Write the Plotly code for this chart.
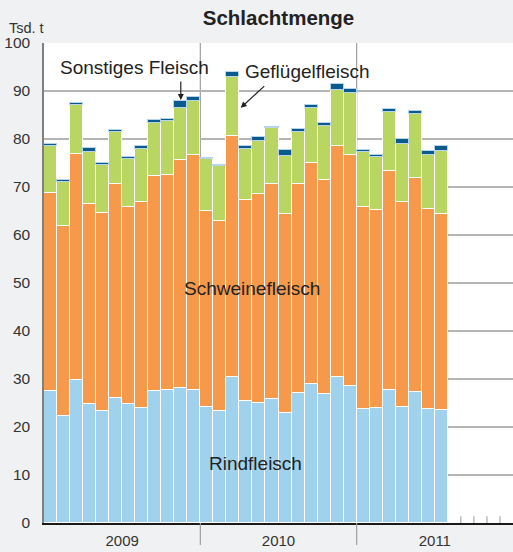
import plotly.graph_objects as go

# Monthly values Jan 2009 .. Jul 2011 (Tsd. t)
years = ["2009", "2010", "2011"]
rind = [27.5, 22.3, 29.8, 24.8, 23.3, 26.0, 24.8, 24.0, 27.5, 27.7, 28.2, 27.7,
        24.2, 23.3, 30.4, 25.4, 24.9, 25.8, 23.0, 27.0, 29.0, 26.8, 30.4, 28.6,
        23.7, 24.0, 27.7, 24.2, 27.3, 23.8, 23.6]
schwein = [41.2, 39.5, 47.1, 41.7, 41.3, 44.6, 41.1, 42.9, 44.8, 44.8, 47.4, 48.9,
           40.9, 39.6, 50.2, 41.8, 43.6, 44.9, 41.4, 43.7, 46.0, 44.6, 48.2, 48.0,
           42.2, 41.3, 45.7, 42.7, 44.6, 41.7, 40.7]
gefluegel = [9.8, 9.3, 10.2, 10.8, 10.0, 10.8, 9.9, 11.1, 11.1, 11.2, 10.8, 11.3,
             10.7, 11.4, 12.3, 10.8, 11.1, 11.6, 12.0, 10.7, 11.5, 11.4, 11.7, 13.0,
             11.4, 11.0, 12.3, 12.0, 13.3, 11.2, 13.2]
sonstiges = [0.5, 0.3, 0.4, 0.8, 0.5, 0.5, 0.5, 0.5, 0.5, 0.5, 1.5, 0.8,
             0.3, 0.3, 1.0, 0.5, 0.9, 0.2, 1.4, 0.6, 0.6, 0.6, 1.2, 0.8,
             0.5, 0.3, 0.6, 1.2, 0.6, 0.9, 1.0]

idx = list(range(len(rind)))
n_slots = 36  # three years of months on the axis

FONT = "Liberation Sans, Arial, Helvetica, sans-serif"
TXT = "#222222"

fig = go.Figure()
series = [
    ("Rindfleisch", rind, "#a0d2ee", "white"),
    ("Schweinefleisch", schwein, "#f6994b", "white"),
    ("Geflügelfleisch", gefluegel, "#b9d662", "white"),
    ("Sonstiges Fleisch", sonstiges, "#0b5a8e", "#b8d4ea"),
]
for name, vals, col, lc in series:
    fig.add_trace(go.Bar(x=idx, y=vals, name=name, marker_color=col,
                         marker_line_color=lc, marker_line_width=1.2,
                         hoverinfo="skip"))

top = [a + b + c + d for a, b, c, d in zip(rind, schwein, gefluegel, sonstiges)]

shapes = []
# year separators inside plot (behind bars)
for b in (11.5, 23.5):
    shapes.append(dict(type="line", xref="x", yref="y", x0=b, x1=b, y0=0, y1=100,
                       line=dict(color="#a0a0a0", width=1.2), layer="below"))
    frac = (b + 0.5) / n_slots
    shapes.append(dict(type="line", xref="paper", yref="paper", x0=frac, x1=frac,
                       y0=-22 / 480, y1=0, line=dict(color="#a0a0a0", width=1.2)))
# small month ticks for empty months
for k in range(len(idx), n_slots - 1):
    shapes.append(dict(type="line", xref="x", yref="y", x0=k + 0.5, x1=k + 0.5,
                       y0=0, y1=1.4, line=dict(color="#999999", width=1)))

annotations = [
    dict(text="Tsd. t", xref="paper", yref="paper", x=(7 - 44) / 469, y=(523 - 28) / 480,
         xanchor="left", yanchor="middle", showarrow=False, font=dict(size=14.5, color="#333")),
    dict(text="Sonstiges Fleisch", x=6.46, y=94.85, showarrow=False,
         font=dict(size=19, color=TXT)),
    dict(text="Geflügelfleisch", x=19.75, y=94.1, showarrow=False,
         font=dict(size=19, color=TXT)),
    dict(text="Schweinefleisch", x=15.5, y=48.8, showarrow=False,
         font=dict(size=19, color=TXT)),
    dict(text="Rindfleisch", x=15.7, y=12.5, showarrow=False,
         font=dict(size=19, color=TXT)),
    dict(text="", x=10, y=top[10], ax=0, ay=-21, showarrow=True, arrowhead=2,
         arrowsize=1, arrowwidth=1.2, arrowcolor=TXT, standoff=1),
    dict(text="", x=14.6, y=86.5, ax=25, ay=-23, showarrow=True, arrowhead=2,
         arrowsize=1, arrowwidth=1.2, arrowcolor=TXT, standoff=0),
]

fig.update_layout(
    width=513, height=552,
    margin=dict(l=44, r=0, t=43, b=29, autoexpand=False),
    paper_bgcolor="#f0f1f3", plot_bgcolor="white",
    barmode="stack", bargap=0, showlegend=False,
    font=dict(family=FONT, color=TXT),
    title=dict(text="<b>Schlachtmenge</b>", x=0.5, xref="paper", xanchor="center",
               y=1 - 18 / 552, yref="container", yanchor="middle",
               font=dict(size=20.5, color=TXT)),
    xaxis=dict(range=[-0.5, n_slots - 0.5], showgrid=False, zeroline=False,
               tickvals=[5.5, 17.5, 29.5], ticktext=years, ticks="",
               tickfont=dict(size=15, color="#333"), showline=True,
               linecolor="#1a1a1a", linewidth=2, automargin=False,
               ticklabelstandoff=3),
    yaxis=dict(range=[0, 100], dtick=10, showgrid=True, gridcolor="#b4b4b4",
               gridwidth=1.5, zeroline=False, showline=True, linecolor="#808080",
               linewidth=1.5, ticks="", tickfont=dict(size=15.5, color="#333"),
               ticklabelstandoff=9, automargin=False),
    shapes=shapes, annotations=annotations,
)

fig.write_html("out.html", config={"displayModeBar": False},
               post_script="document.body.style.margin='0px';document.body.style.background='#f0f1f3';")
